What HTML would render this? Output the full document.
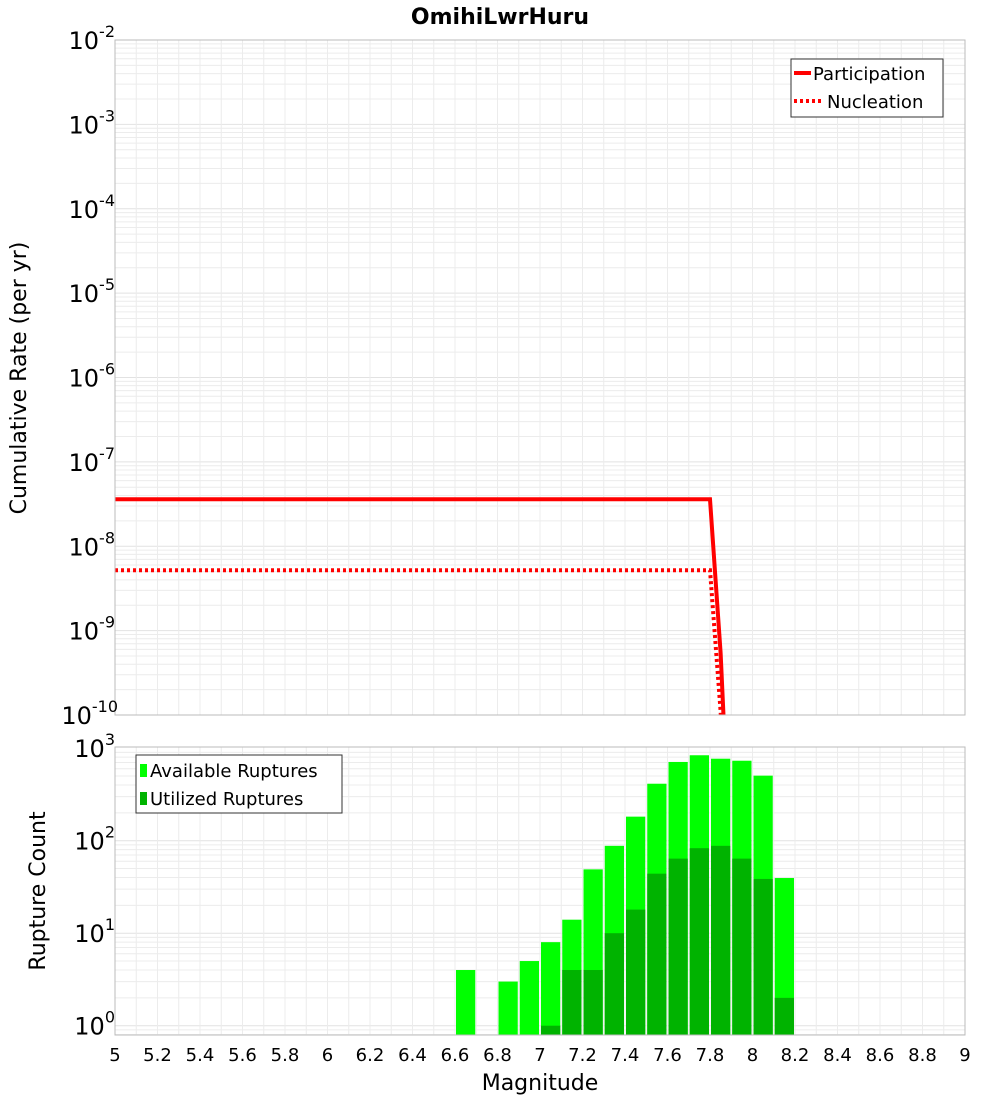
<!DOCTYPE html>
<html><head><meta charset="utf-8"><style>body{margin:0;background:#fff}svg{font-family:"DejaVu Sans","Liberation Sans",sans-serif}</style></head>
<body>
<svg id="c" width="1000" height="1100"></svg>
<script>
const xTicks=[5,5.2,5.4,5.6,5.8,6,6.2,6.4,6.6,6.8,7,7.2,7.4,7.6,7.8,8,8.2,8.4,8.6,8.8,9];
const partX=[5,7.8,7.85,7.9];
const partY=[3.6e-8,3.6e-8,5.4e-10,1e-12];
const nuclX=[5,7.8,7.85,7.9];
const nuclY=[5.2e-9,5.2e-9,1.1e-10,1e-13];
const binCenters=[6.65,6.85,6.95,7.05,7.15,7.25,7.35,7.45,7.55,7.65,7.75,7.85,7.95,8.05,8.15];
const available=[4,3,5,8,14,49,88,182,413,710,839,770,732,505,39.5];
const utilized=[0,0,0,1,4,4,10,18,44,64,83,88,64,38.6,2];
const topExps=[-2,-3,-4,-5,-6,-7,-8,-9,-10];
const botExps=[3,2,1,0];

const NS="http://www.w3.org/2000/svg",svg=document.getElementById('c');
function el(t,a,p){const e=document.createElementNS(NS,t);for(const k in a)e.setAttribute(k,a[k]);(p||svg).appendChild(e);return e;}
const X0=115,X1=965;
const xs=v=>X0+(v-5)/4*(X1-X0);
const T0=40,T1=715;
const ys=v=>T0+(-2-Math.log10(v))/8*(T1-T0);
const B0=747,B1=1035,BP=92.5,BZ=1025.7;
const yb=v=>BZ-Math.log10(v)*BP;

let t=el('text',{x:500,y:24,'text-anchor':'middle','font-size':22,'font-weight':'bold'});t.textContent='OmihiLwrHuru';


function grid(y0,y1,ymap,eLo,eHi){
  const g=el('g',{});
  
  for(let e=eLo;e<eHi;e++)for(let m=1;m<10;m++){const y=ymap(m*Math.pow(10,e));if(y<y0||y>y1)continue;
    el('line',{x1:X0,x2:X1,y1:y,y2:y,stroke:m==1?'#e2e2e2':'#ececec','stroke-width':1},g);}
  for(let v=5;v<=9.001;v+=0.1){const x=xs(v);el('line',{x1:x,x2:x,y1:y0,y2:y1,stroke:'#ececec'},g);}
}
grid(T0,T1,ys,-10,-2);
grid(B0,B1,yb,-1,3);

function line(xa,ya,dash,name){
  let d='';xa.forEach((x,i)=>{d+=(i?'L':'M')+xs(x)+','+ys(ya[i]);});
  const p=el('path',{d:d,fill:'none',stroke:'#ff0000','stroke-width':4,'stroke-dasharray':dash||'none','clip-path':'url(#ct)'});
  
}
const cp=el('clipPath',{id:'ct'});el('rect',{x:X0,y:T0,width:X1-X0,height:T1-T0},cp);
line(nuclX,nuclY,'3,3','nucleation-line');
line(partX,partY,null,'participation-line');
el('rect',{x:X0,y:T0,width:X1-X0,height:T1-T0,fill:'none',stroke:'#bbb'});

binCenters.forEach((c,i)=>{
  const x=xs(c-0.05)+1,w=xs(c+0.05)-xs(c-0.05)-2;
  if(available[i]>0){const r=el('rect',{x:x,y:yb(available[i]),width:w,height:B1-yb(available[i]),fill:'#00ff00'});
    }
  if(utilized[i]>0){const r=el('rect',{x:x,y:yb(utilized[i]),width:w,height:B1-yb(utilized[i]),fill:'#00b300'});
    }
});
el('rect',{x:X0,y:B0,width:X1-X0,height:B1-B0,fill:'none',stroke:'#bbb'});

function ylab(x,y,e,name){const tx=el('text',{x:x,y:y,'text-anchor':'end','font-size':24});
  
  const a=el('tspan',{},tx);a.textContent='10';const b=el('tspan',{dy:-12,'font-size':16},tx);b.textContent=String(e);}
topExps.forEach(e=>ylab(e<=-10?118:115,ys(Math.pow(10,e))+9,e,'y-tick-label'));
botExps.forEach(e=>ylab(115,yb(Math.pow(10,e))+9,e,'y-tick-label-bottom'));
xTicks.forEach(v=>{const tx=el('text',{x:xs(v),y:1061,'text-anchor':'middle','font-size':18});tx.textContent=String(v);
  });
let xl=el('text',{x:540,y:1090,'text-anchor':'middle','font-size':22});xl.textContent='Magnitude';

let y1=el('text',{x:0,y:0,'text-anchor':'middle','font-size':22,transform:'translate(26,378) rotate(-90)'});y1.textContent='Cumulative Rate (per yr)';

let y2=el('text',{x:0,y:0,'text-anchor':'middle','font-size':22,transform:'translate(45,891) rotate(-90)'});y2.textContent='Rupture Count';


const lg=el('g',{});
el('rect',{x:791,y:59,width:152,height:58,fill:'#fff',stroke:'#333'},lg);
el('line',{x1:794,x2:811,y1:73,y2:73,stroke:'#f00','stroke-width':4},lg);
el('line',{x1:794,x2:822,y1:101,y2:101,stroke:'#f00','stroke-width':4,'stroke-dasharray':'3,3'},lg);
let a=el('text',{x:813,y:80,'font-size':18},lg);a.textContent='Participation';
let b=el('text',{x:827,y:108,'font-size':18},lg);b.textContent='Nucleation';
const lb=el('g',{});
el('rect',{x:136,y:755,width:206,height:58,fill:'#fff',stroke:'#333'},lb);
el('rect',{x:140,y:764,width:7,height:13,fill:'#00ff00'},lb);
el('rect',{x:140,y:792,width:7,height:13,fill:'#00b300'},lb);
let c=el('text',{x:150,y:777,'font-size':18},lb);c.textContent='Available Ruptures';
let d=el('text',{x:150,y:805,'font-size':18},lb);d.textContent='Utilized Ruptures';
</script>
</body></html>
